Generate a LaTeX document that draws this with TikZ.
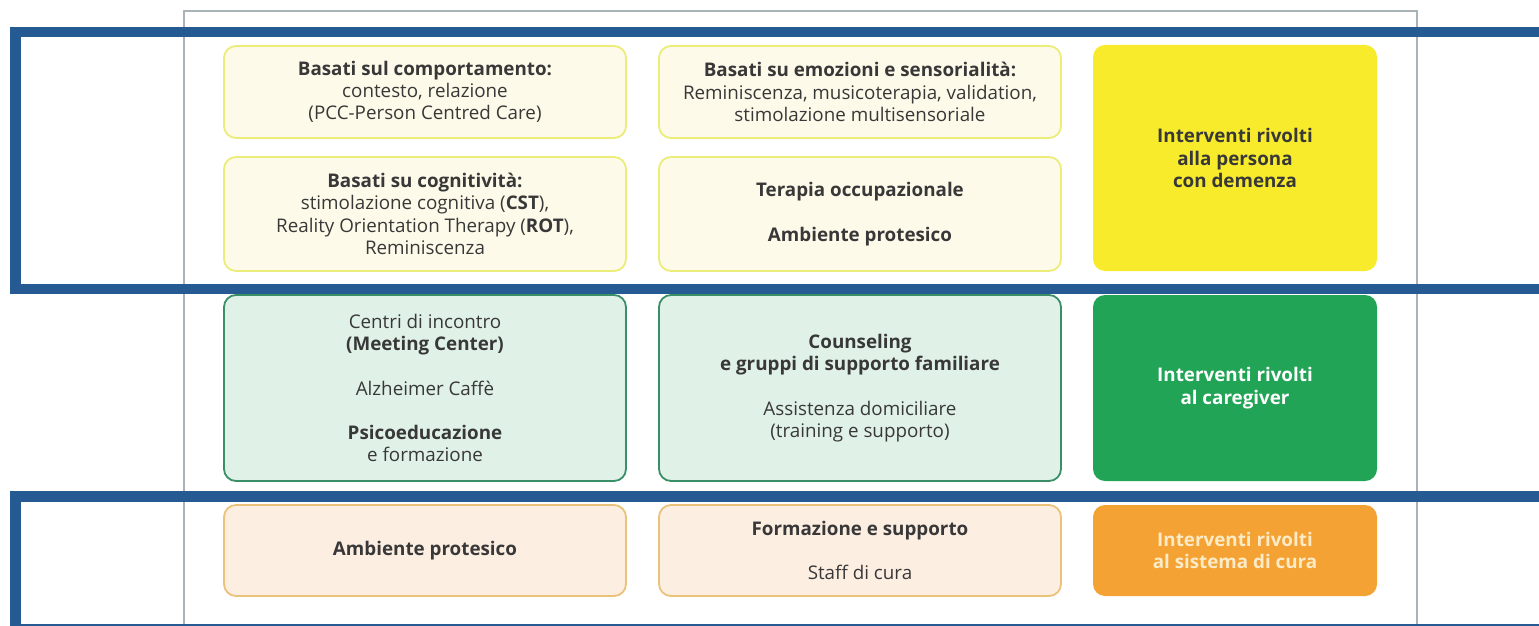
\documentclass[tikz,border=0pt]{standalone}
\usepackage{fontspec}
\setmainfont{Open Sans}
\definecolor{framegray}{HTML}{A9B3B8}
\definecolor{hlblue}{HTML}{255A93}
\definecolor{ylfill}{HTML}{FEFAEA}
\definecolor{ylborder}{HTML}{ECEC78}
\definecolor{ybig}{HTML}{F8EB2C}
\definecolor{glfill}{HTML}{E0F1E7}
\definecolor{glborder}{HTML}{3A8F66}
\definecolor{gbig}{HTML}{21A456}
\definecolor{olfill}{HTML}{FDEEE2}
\definecolor{olborder}{HTML}{EBC27A}
\definecolor{obig}{HTML}{F3A233}
\definecolor{otext}{HTML}{FDEBC8}
\definecolor{txt}{HTML}{383838}
\tikzset{
  cell/.style={rounded corners=12pt, line width=1.8pt, align=center, inner sep=0pt,
    text=txt, font=\fontsize{18.8}{22.3}\selectfont},
  ycell/.style={cell, draw=ylborder, fill=ylfill},
  gcell/.style={cell, draw=glborder, fill=glfill},
  ocell/.style={cell, draw=olborder, fill=olfill},
  bigcell/.style={cell, draw=none, font=\fontsize{18.8}{22.3}\selectfont\bfseries},
  wide/.style={minimum width=402pt},
  narrow/.style={minimum width=284pt},
  hlframe/.style={draw=hlblue, line width=10.5pt},
}
\begin{document}
\begin{tikzpicture}[x=1pt,y=-1pt]
\clip (0,0) rectangle (1539,626);
\fill[white] (0,0) rectangle (1539,626);
% thin outer frame
\draw[framegray, line width=1.5pt] (184,11) rectangle (1417,650);
% row 1
\node[ycell, wide, minimum height=92pt] (a1) at (425,92)
  {\textbf{Basati sul comportamento:}\\contesto, relazione\\(PCC-Person Centred Care)};
\node[ycell, wide, minimum height=92pt] (a2) at (860,92)
  {\textbf{Basati su emozioni e sensorialità:}\\Reminiscenza, musicoterapia, validation,\\stimolazione multisensoriale};
\node[ycell, wide, minimum height=114pt] (b1) at (425,214)
  {\textbf{Basati su cognitività:}\\stimolazione cognitiva (\textbf{CST}),\\Reality Orientation Therapy (\textbf{ROT}),\\Reminiscenza};
\node[ycell, wide, minimum height=114pt] (b2) at (860,214)
  {\textbf{Terapia occupazionale}\\[22.3pt]\textbf{Ambiente protesico}};
\node[bigcell, fill=ybig, narrow, minimum height=226pt] (y3) at (1235,158)
  {Interventi rivolti\\alla persona\\con demenza};
% row 2
\node[gcell, wide, minimum height=186pt] (c1) at (425,388)
  {Centri di incontro\\\textbf{(Meeting Center)}\\[22.3pt]Alzheimer Caffè\\[22.3pt]\textbf{Psicoeducazione}\\e formazione};
\node[gcell, wide, minimum height=186pt] (c2) at (860,388)
  {\textbf{Counseling}\\\textbf{e gruppi di supporto familiare}\\[22.3pt]Assistenza domiciliare\\(training e supporto)};
\node[bigcell, fill=gbig, text=white, narrow, minimum height=186pt] (g3) at (1235,388)
  {Interventi rivolti\\al caregiver};
% row 3
\node[ocell, wide, minimum height=91pt] (d1) at (425,550.5)
  {\textbf{Ambiente protesico}};
\node[ocell, wide, minimum height=91pt] (d2) at (860,550.5)
  {\textbf{Formazione e supporto}\\[22.3pt]Staff di cura};
\node[bigcell, fill=obig, text=otext, narrow, minimum height=91pt] (o3) at (1235,550.5)
  {Interventi rivolti\\al sistema di cura};
% highlight frames
\draw[hlframe] (15.5,32) rectangle (1570,289);
\draw[hlframe] (15.5,496.5) rectangle (1570,629.5);
\end{tikzpicture}
\end{document}
